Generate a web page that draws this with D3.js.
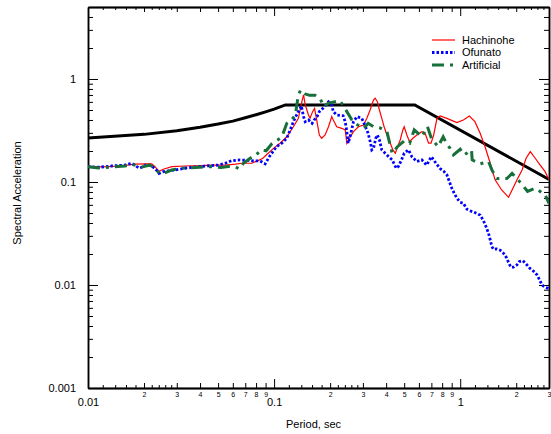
<!DOCTYPE html>
<html lang="en">
<head>
<meta charset="UTF-8">
<title>Spectral Acceleration</title>
<script src="https://cdn.jsdelivr.net/npm/d3@7"></script>
<style>
	body {
		margin: 0;
		background: #fff;
		font-family: "Liberation Sans", Arial, sans-serif;
	}
	.axis path, .axis line {
		stroke: #000;
	}
	.axis path {
		stroke-width: 1.5;
	}
	.axis text {
		font-family: "Liberation Sans", Arial, sans-serif;
		fill: #000;
	}
</style>
</head>
<body>
<div id="viz"></div>
<script>
// design spectrum (thick black)
const designT  = [0.01, 0.02, 0.03, 0.04, 0.05, 0.06, 0.07, 0.08, 0.09, 0.10, 0.115, 0.57, 3.0];
const designSa = [0.267, 0.29, 0.315, 0.34, 0.365, 0.39, 0.42, 0.45, 0.48, 0.51, 0.56, 0.56, 0.106];

const hachinoheT = [0.0100, 0.0120, 0.0150, 0.0179, 0.0205, 0.0220, 0.0229, 0.0241, 0.0254, 0.0282,
	0.0332, 0.0400, 0.0463, 0.0546, 0.0620, 0.0670, 0.0757, 0.0823, 0.0870, 0.0914,
	0.0992, 0.1077, 0.1170, 0.1270, 0.1350, 0.1410, 0.1440, 0.1470, 0.1530, 0.1560,
	0.1610, 0.1650, 0.1700, 0.1750, 0.1800, 0.1880, 0.1960, 0.2040, 0.2080, 0.2170,
	0.2310, 0.2410, 0.2460, 0.2540, 0.2670, 0.2840, 0.3020, 0.3150, 0.3280, 0.3420,
	0.3490, 0.3590, 0.3680, 0.3790, 0.3900, 0.4040, 0.4210, 0.4350, 0.4480, 0.4610,
	0.4760, 0.4920, 0.5000, 0.5170, 0.5340, 0.5570, 0.5850, 0.6220, 0.6480, 0.6760,
	0.6970, 0.7200, 0.7500, 0.7800, 0.8480, 0.9600, 1.0400, 1.1200, 1.2000, 1.2800,
	1.3600, 1.4500, 1.5400, 1.6700, 1.8200, 1.9000, 2.0200, 2.1500, 2.2600, 2.3800,
	2.5300, 2.6900, 2.8600, 3.0000];
const hachinoheSa = [0.142, 0.140, 0.143, 0.149, 0.150, 0.150, 0.141, 0.127, 0.133, 0.141,
	0.143, 0.144, 0.146, 0.146, 0.149, 0.152, 0.152, 0.162, 0.170, 0.185,
	0.212, 0.238, 0.275, 0.344, 0.415, 0.602, 0.700, 0.560, 0.447, 0.415,
	0.482, 0.519, 0.385, 0.286, 0.266, 0.286, 0.344, 0.431, 0.400, 0.344,
	0.332, 0.320, 0.238, 0.266, 0.308, 0.344, 0.358, 0.415, 0.500, 0.625,
	0.650, 0.602, 0.500, 0.415, 0.344, 0.286, 0.238, 0.205, 0.190, 0.220,
	0.256, 0.320, 0.344, 0.286, 0.246, 0.266, 0.286, 0.308, 0.297, 0.238,
	0.238, 0.286, 0.415, 0.437, 0.415, 0.377, 0.400, 0.437, 0.385, 0.297,
	0.220, 0.152, 0.105, 0.0837, 0.0710, 0.0837, 0.105, 0.131, 0.170, 0.197,
	0.170, 0.146, 0.126, 0.105];

const ofunatoT = [0.0100, 0.0114, 0.0134, 0.0158, 0.0172, 0.0183, 0.0190, 0.0207, 0.0220, 0.0231,
	0.0241, 0.0254, 0.0293, 0.0332, 0.0392, 0.0502, 0.0546, 0.0591, 0.0656, 0.0743,
	0.0787, 0.0841, 0.0895, 0.0950, 0.0990, 0.1030, 0.1100, 0.1170, 0.1220, 0.1270,
	0.1320, 0.1380, 0.1400, 0.1440, 0.1470, 0.1530, 0.1600, 0.1640, 0.1700, 0.1750,
	0.1830, 0.1960, 0.2040, 0.2080, 0.2170, 0.2350, 0.2410, 0.2460, 0.2500, 0.2560,
	0.2670, 0.2790, 0.2960, 0.3070, 0.3200, 0.3300, 0.3350, 0.3420, 0.3520, 0.3590,
	0.3680, 0.3790, 0.4040, 0.4310, 0.4530, 0.4650, 0.4840, 0.5000, 0.5270, 0.5500,
	0.5850, 0.6220, 0.6600, 0.7000, 0.7300, 0.7800, 0.8130, 0.8490, 0.8760, 0.9020,
	0.9290, 0.9600, 1.0000, 1.0400, 1.0870, 1.1260, 1.2050, 1.2800, 1.3300, 1.3800,
	1.4200, 1.4500, 1.4800, 1.5100, 1.5700, 1.6400, 1.7100, 1.7700, 1.8200, 1.8700,
	1.9300, 2.0200, 2.0800, 2.1700, 2.2600, 2.3600, 2.4800, 2.5800, 2.6700, 2.7500,
	2.8600, 2.9700, 3.0000];
const ofunatoSa = [0.141, 0.139, 0.143, 0.146, 0.152, 0.141, 0.136, 0.148, 0.143, 0.133,
	0.121, 0.126, 0.131, 0.136, 0.141, 0.146, 0.152, 0.161, 0.164, 0.161,
	0.160, 0.160, 0.150, 0.180, 0.200, 0.220, 0.238, 0.266, 0.320, 0.385,
	0.447, 0.519, 0.547, 0.431, 0.385, 0.400, 0.371, 0.400, 0.431, 0.482,
	0.519, 0.600, 0.560, 0.482, 0.447, 0.440, 0.385, 0.308, 0.238, 0.275,
	0.385, 0.431, 0.415, 0.358, 0.297, 0.238, 0.205, 0.212, 0.266, 0.286,
	0.256, 0.205, 0.183, 0.164, 0.136, 0.141, 0.164, 0.190, 0.205, 0.176,
	0.158, 0.164, 0.146, 0.176, 0.158, 0.135, 0.128, 0.117, 0.100, 0.0868,
	0.0775, 0.0696, 0.0636, 0.0621, 0.0544, 0.0527, 0.0503, 0.0477, 0.0425, 0.0364,
	0.0317, 0.0274, 0.0236, 0.0222, 0.0224, 0.0218, 0.0203, 0.0185, 0.0165, 0.0149,
	0.0149, 0.0157, 0.0169, 0.0172, 0.0160, 0.0146, 0.0136, 0.0126, 0.0112, 0.0100,
	0.0095, 0.0093, 0.0092];

const artificialT = [0.0100, 0.0114, 0.0135, 0.0158, 0.0172, 0.0183, 0.0195, 0.0215, 0.0231, 0.0241,
	0.0254, 0.0282, 0.0332, 0.0400, 0.0460, 0.0520, 0.0580, 0.0620, 0.0650, 0.0684,
	0.0743, 0.0799, 0.0848, 0.0906, 0.0970, 0.1010, 0.1080, 0.1110, 0.1170, 0.1240,
	0.1300, 0.1350, 0.1390, 0.1470, 0.1550, 0.1660, 0.1770, 0.1850, 0.1950, 0.2100,
	0.2260, 0.2400, 0.2620, 0.2800, 0.3020, 0.3200, 0.3420, 0.3680, 0.4040, 0.4200,
	0.4310, 0.4600, 0.5000, 0.5350, 0.5660, 0.6220, 0.6670, 0.7000, 0.7600, 0.8100,
	0.8500, 0.8830, 0.9200, 1.0000, 1.0500, 1.1500, 1.1600, 1.2800, 1.4200, 1.4800,
	1.5700, 1.7800, 1.9000, 2.0200, 2.2000, 2.3000, 2.5300, 2.6900, 2.8600, 3.0000];
const artificialSa = [0.141, 0.137, 0.140, 0.143, 0.148, 0.144, 0.140, 0.146, 0.135, 0.122,
	0.121, 0.131, 0.137, 0.139, 0.141, 0.138, 0.142, 0.140, 0.134, 0.152,
	0.170, 0.182, 0.205, 0.201, 0.234, 0.246, 0.266, 0.286, 0.371, 0.400,
	0.447, 0.700, 0.782, 0.715, 0.694, 0.694, 0.640, 0.540, 0.580, 0.600,
	0.616, 0.520, 0.400, 0.360, 0.332, 0.371, 0.344, 0.337, 0.308, 0.230,
	0.190, 0.220, 0.250, 0.238, 0.320, 0.275, 0.344, 0.266, 0.220, 0.275,
	0.230, 0.212, 0.183, 0.208, 0.183, 0.205, 0.164, 0.150, 0.158, 0.131,
	0.108, 0.108, 0.121, 0.108, 0.090, 0.081, 0.087, 0.081, 0.075, 0.062];

const seriesNames = ['Hachinohe', 'Ofunato', 'Artificial'];

// tick values
const xMajorTicks = [0.01, 0.1, 1];
const xMinorTicks = [0.02, 0.03, 0.04, 0.05, 0.06, 0.07, 0.08, 0.09,
	0.2, 0.3, 0.4, 0.5, 0.6, 0.7, 0.8, 0.9, 2, 3];
const xMinorLabels = ['2', '3', '4', '5', '6', '7', '8', '9',
	'2', '3', '4', '5', '6', '7', '8', '9', '2', '3'];
const xSubTicks = [0.012, 0.014, 0.016, 0.018, 0.022, 0.024, 0.026, 0.028,
	0.12, 0.14, 0.16, 0.18, 0.22, 0.24, 0.26, 0.28,
	1.2, 1.4, 1.6, 1.8, 2.2, 2.4, 2.6, 2.8];
const yMajorTicks = [0.001, 0.01, 0.1, 1];
const yMinorTicks = [0.002, 0.003, 0.004, 0.005, 0.006, 0.007, 0.008, 0.009,
	0.02, 0.03, 0.04, 0.05, 0.06, 0.07, 0.08, 0.09,
	0.2, 0.3, 0.4, 0.5, 0.6, 0.7, 0.8, 0.9, 2, 3, 4];

window.onload = () => {

	let margin = {top: 7, left: 88, bottom: 46, right: 2};
	let width = 551 - margin.left - margin.right;
	let height = 434 - margin.top - margin.bottom;

	let x = d3.scaleLog().domain([0.01, 3]).range([0, width]);
	let y = d3.scaleLog().domain([0.001, 5]).range([height, 0]);

	let svg = d3.select('#viz')
		.append('svg')
		.attr('width', 551)
		.attr('height', 434);

	let g = svg.append('g')
		.attr('transform', 'translate(' + margin.left + ',' + margin.top + ')');

	g.append('clipPath').attr('id', 'clip')
		.append('rect').attr('width', width).attr('height', height);

	// --- axes (ticks point inward) ---
	function addAxis(axis, transform) {
		let a = g.append('g').attr('class', 'axis').call(axis);
		if (transform) a.attr('transform', transform);
		return a;
	}

	let minorFmt = (d) => xMinorLabels[xMinorTicks.indexOf(d)];

	// bottom
	addAxis(d3.axisBottom(x).tickValues(xSubTicks).tickSizeInner(-3).tickSizeOuter(0).tickFormat(''),
		'translate(0,' + height + ')');
	addAxis(d3.axisBottom(x).tickValues(xMinorTicks).tickSizeInner(-5).tickSizeOuter(0)
		.tickPadding(4).tickFormat(minorFmt), 'translate(0,' + height + ')')
		.selectAll('text').style('font-size', '7px');
	addAxis(d3.axisBottom(x).tickValues(xMajorTicks).tickSizeInner(-9).tickSizeOuter(0)
		.tickPadding(10).tickFormat((d) => String(d)), 'translate(0,' + height + ')')
		.selectAll('text').style('font-size', '11px');

	// top
	addAxis(d3.axisTop(x).tickValues(xSubTicks).tickSizeInner(-3).tickSizeOuter(0).tickFormat(''));
	addAxis(d3.axisTop(x).tickValues(xMinorTicks).tickSizeInner(-5).tickSizeOuter(0).tickFormat(''));
	addAxis(d3.axisTop(x).tickValues(xMajorTicks).tickSizeInner(-9).tickSizeOuter(0).tickFormat(''));

	// left
	addAxis(d3.axisLeft(y).tickValues(yMinorTicks).tickSizeInner(-5).tickSizeOuter(0).tickFormat(''));
	addAxis(d3.axisLeft(y).tickValues(yMajorTicks).tickSizeInner(-10).tickSizeOuter(0)
		.tickPadding(12).tickFormat((d) => String(d)))
		.selectAll('text').style('font-size', '11px');

	// right
	addAxis(d3.axisRight(y).tickValues(yMinorTicks).tickSizeInner(-5).tickSizeOuter(0).tickFormat(''),
		'translate(' + width + ',0)');
	addAxis(d3.axisRight(y).tickValues(yMajorTicks).tickSizeInner(-10).tickSizeOuter(0).tickFormat(''),
		'translate(' + width + ',0)');

	// axis titles
	svg.append('text')
		.attr('x', margin.left + width / 2 - 5)
		.attr('y', 428)
		.attr('text-anchor', 'middle')
		.style('font-size', '11px')
		.text('Period, sec');

	svg.append('text')
		.attr('transform', 'translate(21,' + 193 + ') rotate(-90)')
		.attr('text-anchor', 'middle')
		.style('font-size', '11px')
		.text('Spectral Acceleration');

	// --- curves ---
	let line = d3.line()
		.x((d) => x(d[0]))
		.y((d) => y(d[1]));

	let styles = [
		{name: 'Hachinohe', T: hachinoheT, Sa: hachinoheSa, color: '#ff0000', width: 1.2, dash: null},
		{name: 'Ofunato', T: ofunatoT, Sa: ofunatoSa, color: '#0000ff', width: 2.8, dash: '2.5,2'},
		{name: 'Artificial', T: artificialT, Sa: artificialSa, color: '#17703a', width: 3, dash: '12,6,3,6'}
	];

	let plot = g.append('g').attr('clip-path', 'url(#clip)');

	plot.append('path')
		.datum(designT.map((t, i) => [t, designSa[i]]))
		.attr('d', line)
		.attr('fill', 'none')
		.attr('stroke', '#000')
		.attr('stroke-width', 3);

	styles.forEach((s) => {
		plot.append('path')
			.datum(s.T.map((t, i) => [t, s.Sa[i]]))
			.attr('d', line)
			.attr('fill', 'none')
			.attr('stroke', s.color)
			.attr('stroke-width', s.width)
			.attr('stroke-dasharray', s.dash);
	});

	// --- legend ---
	let legend = svg.append('g').attr('transform', 'translate(432,40)');
	styles.forEach((s, i) => {
		let row = legend.append('g').attr('transform', 'translate(0,' + (i * 12.5) + ')');
		row.append('line')
			.attr('x1', 0).attr('x2', 23)
			.attr('stroke', s.color)
			.attr('stroke-width', s.width)
			.attr('stroke-dasharray', s.dash);
		row.append('text')
			.attr('x', 30)
			.attr('dy', '0.35em')
			.style('font-size', '11px')
			.text(s.name);
	});
};
</script>
</body>
</html>
